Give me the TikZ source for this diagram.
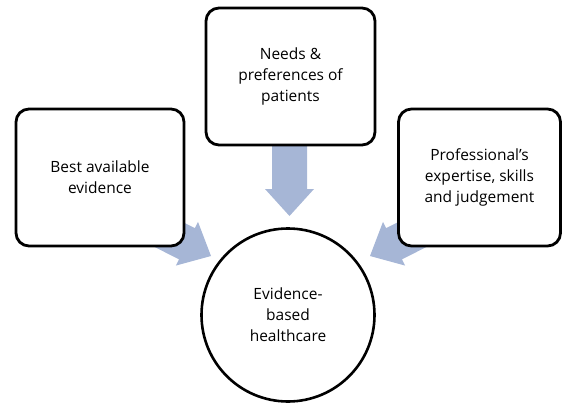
\documentclass[tikz,border=0pt]{standalone}
\usepackage{fontspec}
\setmainfont{Open Sans}
\usetikzlibrary{calc}
\definecolor{arrowblue}{RGB}{166,182,214}
\newcommand\fatarrow[3]{%
  \coordinate (#3) at ($(#2)!27pt!(#1)$);
  \fill[arrowblue] ($(#1)!17.5pt!90:(#2)$) -- ($(#3)!17.5pt!90:(#2)$) -- ($(#3)!24.5pt!90:(#2)$)
    -- (#2) -- ($(#3)!24.5pt!-90:(#2)$) -- ($(#3)!17.5pt!-90:(#2)$) -- ($(#1)!17.5pt!-90:(#2)$) -- cycle;}
\begin{document}
\begin{tikzpicture}[x=1pt,y=-1pt,
  txt/.style={align=center, font=\fontsize{15.5}{21}\selectfont},
  box/.style={txt, draw=black, line width=2.8pt, rounded corners=13pt, fill=white,
    minimum height=137pt, inner sep=0pt},
  hub/.style={txt, draw=black, line width=2.6pt, circle, fill=white, minimum size=173pt, inner sep=0pt}]
\useasboundingbox (0,0) rectangle (563,404);
% arrows (behind the shapes)
\coordinate (s1) at (150,225);
\coordinate (t1) at (211,256);
\coordinate (s2) at (289.5,135);
\coordinate (t2) at (289.5,216);
\coordinate (s3) at (431,225);
\coordinate (t3) at (370,256);
\fatarrow{s1}{t1}{h1}
\fatarrow{s2}{t2}{h2}
\fatarrow{s3}{t3}{h3}
% shapes
\node[box, minimum width=168pt] (ev) at (100,177.5) {Best available\\evidence};
\node[box, minimum width=169pt] (pat) at (290.5,76.5) {Needs \&\\preferences of\\patients};
\node[box, minimum width=162pt] (pro) at (479.5,177.5) {Professional’s\\expertise, skills\\and judgement};
\node[hub] (ebh) at (288,315) {Evidence-\\based\\healthcare};
\end{tikzpicture}
\end{document}
